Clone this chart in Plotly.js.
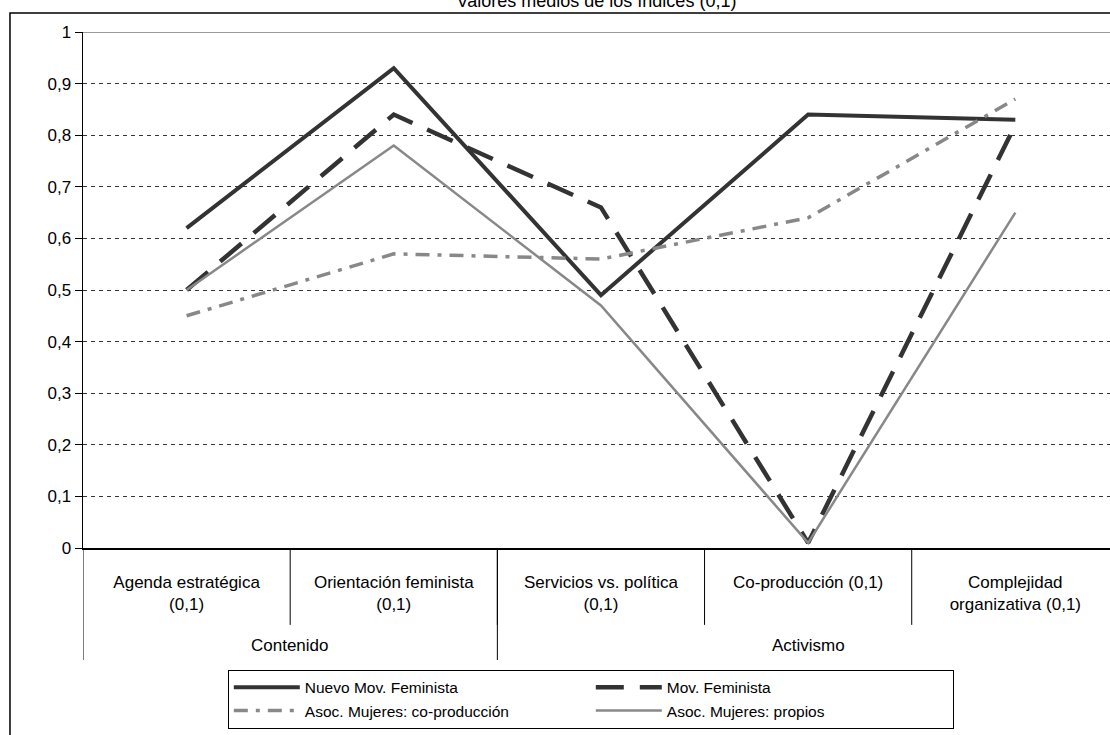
<!DOCTYPE html>
<html>
<head>
<meta charset="utf-8">
<script src="https://cdn.plot.ly/plotly-3.0.1.min.js"></script>
<style>
  html, body { margin: 0; padding: 0; background: #fff; }
  #chart { width: 1110px; height: 735px; }
</style>
</head>
<body>
<div id="chart"></div>
<script>
// Categories (x axis) and the two groups they belong to
var categories = [
  "Agenda estratégica<br>(0,1)",
  "Orientación feminista<br>(0,1)",
  "Servicios vs. política<br>(0,1)",
  "Co-producción (0,1)",
  "Complejidad<br>organizativa (0,1)"
];
var groups = ["Contenido", "Activismo"];

// Series values
var nuevo_mov = [0.62, 0.93, 0.49, 0.84, 0.83];
var mov_fem = [0.50, 0.84, 0.66, 0.01, 0.82];
var asoc_coprod = [0.45, 0.57, 0.56, 0.64, 0.87];
var asoc_propios = [0.50, 0.78, 0.47, 0.01, 0.65];

var font = "Liberation Sans, Arial, sans-serif";
var dark = "#333333";
var grey = "#888888";

var traces = [
  {x: categories, y: nuevo_mov, name: "Nuevo Mov. Feminista", mode: "lines",
   line: {color: dark, width: 4}},
  {x: categories, y: mov_fem, name: "Mov. Feminista", mode: "lines",
   line: {color: dark, width: 4.5, dash: "28px,16px"}},
  {x: categories, y: asoc_coprod, name: "Asoc. Mujeres: co-producción", mode: "lines",
   line: {color: grey, width: 3.5, dash: "14px,8px,4px,8px"}},
  {x: categories, y: asoc_propios, name: "Asoc. Mujeres: propios", mode: "lines",
   line: {color: grey, width: 2.5}}
];

// Separators under the category axis (Excel style table)
var shapes = [];
for (var i = 0; i < categories.length - 1; i++) {
  shapes.push({type: "line", xref: "x", yref: "paper", x0: i + 0.5, x1: i + 0.5,
    y0: 0, y1: -0.149, line: {color: "#000", width: 1}});
}
// group boundaries go lower
[-0.5, 1.5].forEach(function (b) {
  shapes.push({type: "line", xref: "x", yref: "paper", x0: b, x1: b,
    y0: 0, y1: -0.217, line: {color: "#000", width: 1}});
});
// top line at 1
shapes.push({type: "line", xref: "paper", yref: "y", x0: 0, x1: 1, y0: 1, y1: 1,
  line: {color: "#999", width: 2}});
// outer chart border
shapes.push({type: "rect", xref: "paper", yref: "paper", x0: -0.0711, x1: 1.05,
  y0: -0.6, y1: 1.0368, line: {color: "#000", width: 1.5}});

var annotations = [
  {text: groups[0], xref: "x", yref: "paper", x: 0.5, y: -0.188, yanchor: "middle",
   showarrow: false, font: {family: font, size: 17, color: "#000"}},
  {text: groups[1], xref: "x", yref: "paper", x: 3, y: -0.188, yanchor: "middle",
   showarrow: false, font: {family: font, size: 17, color: "#000"}}
];

var layout = {
  width: 1110,
  height: 735,
  margin: {l: 83, r: 0, t: 32, b: 187},
  paper_bgcolor: "#fff",
  plot_bgcolor: "#fff",
  separators: ", ",
  font: {family: font, size: 15, color: "#000"},
  title: {
    text: "Valores medios de los índices (0,1)",
    font: {family: font, size: 18, color: "#000"},
    xref: "paper", x: 0.5,
    yref: "container", y: 0.991, yanchor: "bottom"
  },
  xaxis: {
    type: "category",
    range: [-0.5, 4.457],
    showline: true, linecolor: "#000", linewidth: 1.5,
    showgrid: false, zeroline: false,
    ticks: "",
    ticklabelstandoff: 18,
    tickfont: {family: font, size: 17, color: "#000"}
  },
  yaxis: {
    range: [0, 1],
    dtick: 0.1,
    showline: true, linecolor: "#000", linewidth: 1.5,
    ticks: "outside", ticklen: 7, tickcolor: "#000",
    showgrid: true, gridcolor: "#333", gridwidth: 1, griddash: "4px,4px",
    zeroline: false,
    tickfont: {family: font, size: 17, color: "#000"}
  },
  showlegend: true,
  legend: {
    orientation: "h",
    x: 0.141, xanchor: "left",
    y: -0.236, yanchor: "top",
    entrywidth: 281,
    itemwidth: 66,
    bordercolor: "#000", borderwidth: 1,
    font: {family: font, size: 15.5, color: "#000"},
    traceorder: "normal"
  },
  shapes: shapes,
  annotations: annotations
};

Plotly.newPlot("chart", traces, layout, {staticPlot: true, displayModeBar: false});
</script>
</body>
</html>
